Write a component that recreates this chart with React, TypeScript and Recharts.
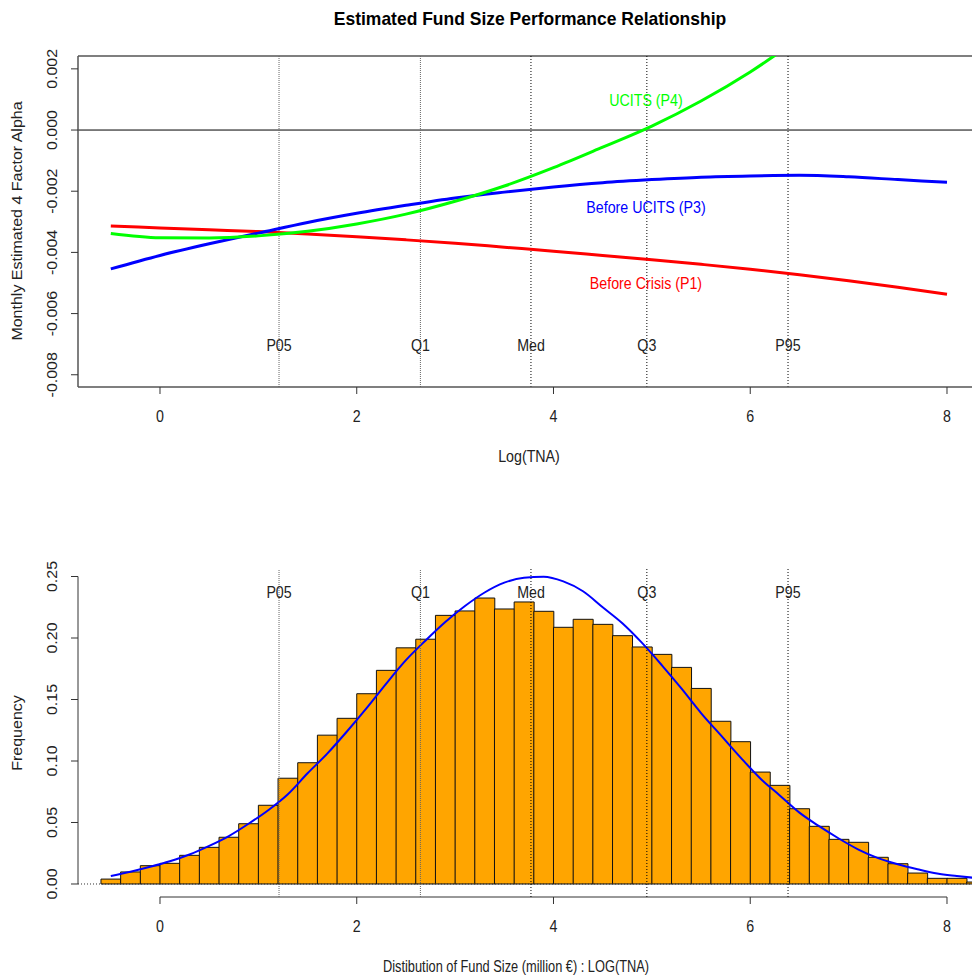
import React from 'react';
import { ComposedChart, LineChart, Line, Bar, XAxis, YAxis, ReferenceLine, ReferenceDot } from 'recharts';

// ---------- Top panel: estimated alpha vs log(TNA) ----------
const sizeGrid = [-0.5, 0, 0.5, 1, 1.5, 2, 2.5, 3, 3.5, 4, 4.5, 5, 5.5, 6, 6.5, 7, 7.5, 8];
const beforeCrisisP1 = [-0.00314, -0.0032, -0.00326, -0.00332, -0.0034, -0.00349, -0.00359, -0.0037, -0.00383, -0.00396, -0.0041, -0.00424, -0.00439, -0.00455, -0.00473, -0.00493, -0.00514, -0.00537];
const beforeUcitsP3 = [-0.00454, -0.0041, -0.00372, -0.00337, -0.00302, -0.00272, -0.00246, -0.00222, -0.00203, -0.00186, -0.00172, -0.00162, -0.00154, -0.0015, -0.00148, -0.00153, -0.00162, -0.00171];
const ucitsP4 = [-0.00338, -0.00352, -0.00353, -0.00346, -0.00331, -0.00307, -0.00275, -0.00233, -0.00183, -0.00123, -0.00056, 0.00013, 0.00095, 0.0019, 0.003, null, null, null];

const seriesNames = ['UCITS (P4)', 'Before UCITS (P3)', 'Before Crisis (P1)'];
const seriesColors = ['#00ff00', '#0000ff', '#ff0000'];
const seriesLabelX = [4.94, 4.94, 4.94];
const seriesLabelY = [0.00098, -0.00252, -0.005];

// ---------- Quantiles of log(TNA) ----------
const quantileNames = ['P05', 'Q1', 'Med', 'Q3', 'P95'];
const quantileValues = [1.21, 2.647, 3.771, 4.949, 6.384];
const quantileColors = ['#666', '#666', '#000', '#000', '#000'];
const quantileDash = ['1 1', '1 1', '1 2', '1 2', '1 2'];
const quantileLabelAlpha = -0.00703;
const quantileLabelFreq = 0.2374;

// ---------- Bottom panel: histogram (bin width 0.2) ----------
const binCenters = [-0.5, -0.3, -0.1, 0.1, 0.3, 0.5, 0.7, 0.9, 1.1, 1.3, 1.5, 1.7, 1.9, 2.1, 2.3, 2.5, 2.7, 2.9, 3.1, 3.3, 3.5, 3.7, 3.9, 4.1, 4.3, 4.5, 4.7, 4.9, 5.1, 5.3, 5.5, 5.7, 5.9, 6.1, 6.3, 6.5, 6.7, 6.9, 7.1, 7.3, 7.5, 7.7, 7.9, 8.1, 8.3];
const binFreq = [0.004, 0.0098, 0.0149, 0.0168, 0.0233, 0.0298, 0.038, 0.049, 0.064, 0.086, 0.0986, 0.121, 0.1347, 0.1547, 0.1737, 0.192, 0.199, 0.2184, 0.222, 0.2325, 0.2236, 0.2293, 0.2217, 0.2087, 0.2152, 0.2111, 0.2019, 0.1927, 0.1867, 0.1761, 0.159, 0.1323, 0.1157, 0.091, 0.0802, 0.0612, 0.0469, 0.0363, 0.0339, 0.0217, 0.0165, 0.0089, 0.0046, 0.0046, 0.0016];
const densityCurve = [0.0065, 0.01, 0.014, 0.0185, 0.024, 0.031, 0.039, 0.049, 0.06, 0.073, 0.09, 0.106, 0.124, 0.143, 0.163, 0.182, 0.198, 0.213, 0.226, 0.237, 0.245, 0.249, 0.2498, 0.246, 0.238, 0.225, 0.212, 0.196, 0.178, 0.159, 0.139, 0.121, 0.103, 0.086, 0.072, 0.058, 0.047, 0.037, 0.028, 0.021, 0.016, 0.012, 0.0085, 0.0065, 0.0048];

const xTicks = [0, 2, 4, 6, 8];
const alphaTicks = [-0.008, -0.006, -0.004, -0.002, 0, 0.002];
const freqTicks = [0, 0.05, 0.1, 0.15, 0.2, 0.25];

// ---------- layout ----------
const X_DOMAIN: [number, number] = [-0.8335, 8.3355];
const ALPHA_DOMAIN: [number, number] = [-0.0084, 0.00242];
const FREQ_DOMAIN: [number, number] = [-0.01057, 0.2561];
const CHART_W = 982;
const FONT = '"Liberation Sans", Arial, sans-serif';
const SX = 0.89;
const TXT = '#222';

const alphaRows = sizeGrid.map((x, i) => ({ x, p1: beforeCrisisP1[i], p3: beforeUcitsP3[i], p4: ucitsP4[i] }));
const histRows = binCenters.map((x, i) => ({ x, freq: binFreq[i], dens: densityCurve[i] }));

const XTick = (props: any) => {
  const { x, y, payload } = props;
  return (
    <text transform={`translate(${x},${y + 20}) scale(${SX},1)`} textAnchor="middle" dominantBaseline="central" fontSize={16} fontFamily={FONT} fill={TXT}>
      {payload.value}
    </text>
  );
};

const YTick = (props: any) => {
  const { x, y, payload, digits } = props;
  return (
    <text transform={`translate(${x - 17},${y}) scale(${SX},1) rotate(-90)`} textAnchor="middle" dominantBaseline="central" fontSize={16} fontFamily={FONT} fill={TXT}>
      {Number(payload.value).toFixed(digits)}
    </text>
  );
};

const textShape = (text: string, color: string) => (p: any) => (
  <text transform={`translate(${p.cx},${p.cy}) scale(${SX},1)`} textAnchor="middle" dominantBaseline="central" fontSize={16} fontFamily={FONT} fill={color}>
    {text}
  </text>
);

const Caption = ({ x, y, text, rotate = false, bold = false, size = 16, sx = SX }: any) => (
  <div
    style={{
      position: 'absolute',
      left: x,
      top: y,
      transform: `translate(-50%,-50%) scaleX(${sx})${rotate ? ' rotate(-90deg)' : ''}`,
      whiteSpace: 'nowrap',
      fontFamily: FONT,
      fontSize: size,
      fontWeight: bold ? 700 : 400,
      lineHeight: 1,
      color: bold ? '#000' : TXT,
    }}
  >
    {text}
  </div>
);

export default function App() {
  return (
    <div style={{ position: 'absolute', left: 0, top: 0, width: 972, height: 976, overflow: 'hidden', background: '#fff' }}>
      <div style={{ position: 'absolute', left: 0, top: 0 }}>
        <LineChart width={CHART_W} height={480} data={alphaRows} margin={{ top: 56, right: 2, bottom: 63, left: 8 }}>
          <XAxis dataKey="x" type="number" domain={X_DOMAIN} allowDataOverflow ticks={xTicks} interval={0} tickSize={7} height={30}
            axisLine={{ stroke: '#555', strokeWidth: 1.5 }} tickLine={{ stroke: '#333' }} tick={<XTick />} />
          <YAxis type="number" domain={ALPHA_DOMAIN} allowDataOverflow ticks={alphaTicks} interval={0} width={70} tickSize={7}
            axisLine={{ stroke: '#555', strokeWidth: 1.5 }} tickLine={{ stroke: '#333' }} tick={<YTick digits={3} />} />
          <ReferenceLine y={ALPHA_DOMAIN[1]} stroke="#555" strokeWidth={1.5} />
          <ReferenceLine y={0} stroke="#000" strokeWidth={1} />
          {quantileValues.map((q, i) => (
            <ReferenceLine key={'tq' + i} x={q} stroke={quantileColors[i]} strokeDasharray={quantileDash[i]} />
          ))}
          {quantileValues.map((q, i) => (
            <ReferenceDot key={'tl' + i} x={q} y={quantileLabelAlpha} r={1} shape={textShape(quantileNames[i], TXT)} />
          ))}
          <Line dataKey="p1" type="monotone" stroke="#ff0000" strokeWidth={3} dot={false} isAnimationActive={false} />
          <Line dataKey="p3" type="monotone" stroke="#0000ff" strokeWidth={3} dot={false} isAnimationActive={false} />
          <Line dataKey="p4" type="monotone" stroke="#00ff00" strokeWidth={3} dot={false} isAnimationActive={false} />
          {seriesNames.map((n, i) => (
            <ReferenceDot key={'sl' + i} x={seriesLabelX[i]} y={seriesLabelY[i]} r={1} shape={textShape(n, seriesColors[i])} />
          ))}
        </LineChart>
      </div>

      <div style={{ position: 'absolute', left: 0, top: 480 }}>
        <ComposedChart width={CHART_W} height={496} data={histRows} margin={{ top: 89, right: 2, bottom: 49, left: 8 }} barCategoryGap={0} barGap={0}>
          <XAxis dataKey="x" type="number" domain={X_DOMAIN} allowDataOverflow ticks={xTicks} interval={0} tickSize={7} height={30}
            axisLine={false} tickLine={{ stroke: '#333' }} tick={<XTick />} />
          <YAxis type="number" domain={FREQ_DOMAIN} allowDataOverflow ticks={freqTicks} interval={0} width={70} tickSize={7}
            axisLine={false} tickLine={{ stroke: '#333' }} tick={<YTick digits={2} />} />
          <ReferenceLine y={0} stroke="#333" strokeDasharray="1 2" />
          <Bar dataKey="freq" fill="#FFA500" stroke="#111" strokeWidth={1} isAnimationActive={false} />
          <Line dataKey="dens" type="monotone" stroke="#0000ff" strokeWidth={2} dot={false} isAnimationActive={false} />
          <ReferenceLine segment={[{ x: 0, y: FREQ_DOMAIN[0] }, { x: 8, y: FREQ_DOMAIN[0] }]} stroke="#333" />
          <ReferenceLine segment={[{ x: X_DOMAIN[0], y: 0 }, { x: X_DOMAIN[0], y: 0.25 }]} stroke="#333" />
          {quantileValues.map((q, i) => (
            <ReferenceLine key={'bq' + i} x={q} stroke={quantileColors[i]} strokeDasharray={quantileDash[i]} />
          ))}
          {quantileValues.map((q, i) => (
            <ReferenceDot key={'bl' + i} x={q} y={quantileLabelFreq} r={1} shape={textShape(quantileNames[i], TXT)} />
          ))}
        </ComposedChart>
      </div>

      <Caption x={530} y={18} text="Estimated Fund Size Performance Relationship" bold size={19} sx={0.92} />
      <Caption x={18} y={221} text="Monthly Estimated 4 Factor Alpha" rotate />
      <Caption x={529} y={457} text="Log(TNA)" />
      <Caption x={18} y={733} text="Frequency" rotate />
      <Caption x={516} y={967} text="Distibution of Fund Size (million €) : LOG(TNA)" sx={0.8} />
    </div>
  );
}
